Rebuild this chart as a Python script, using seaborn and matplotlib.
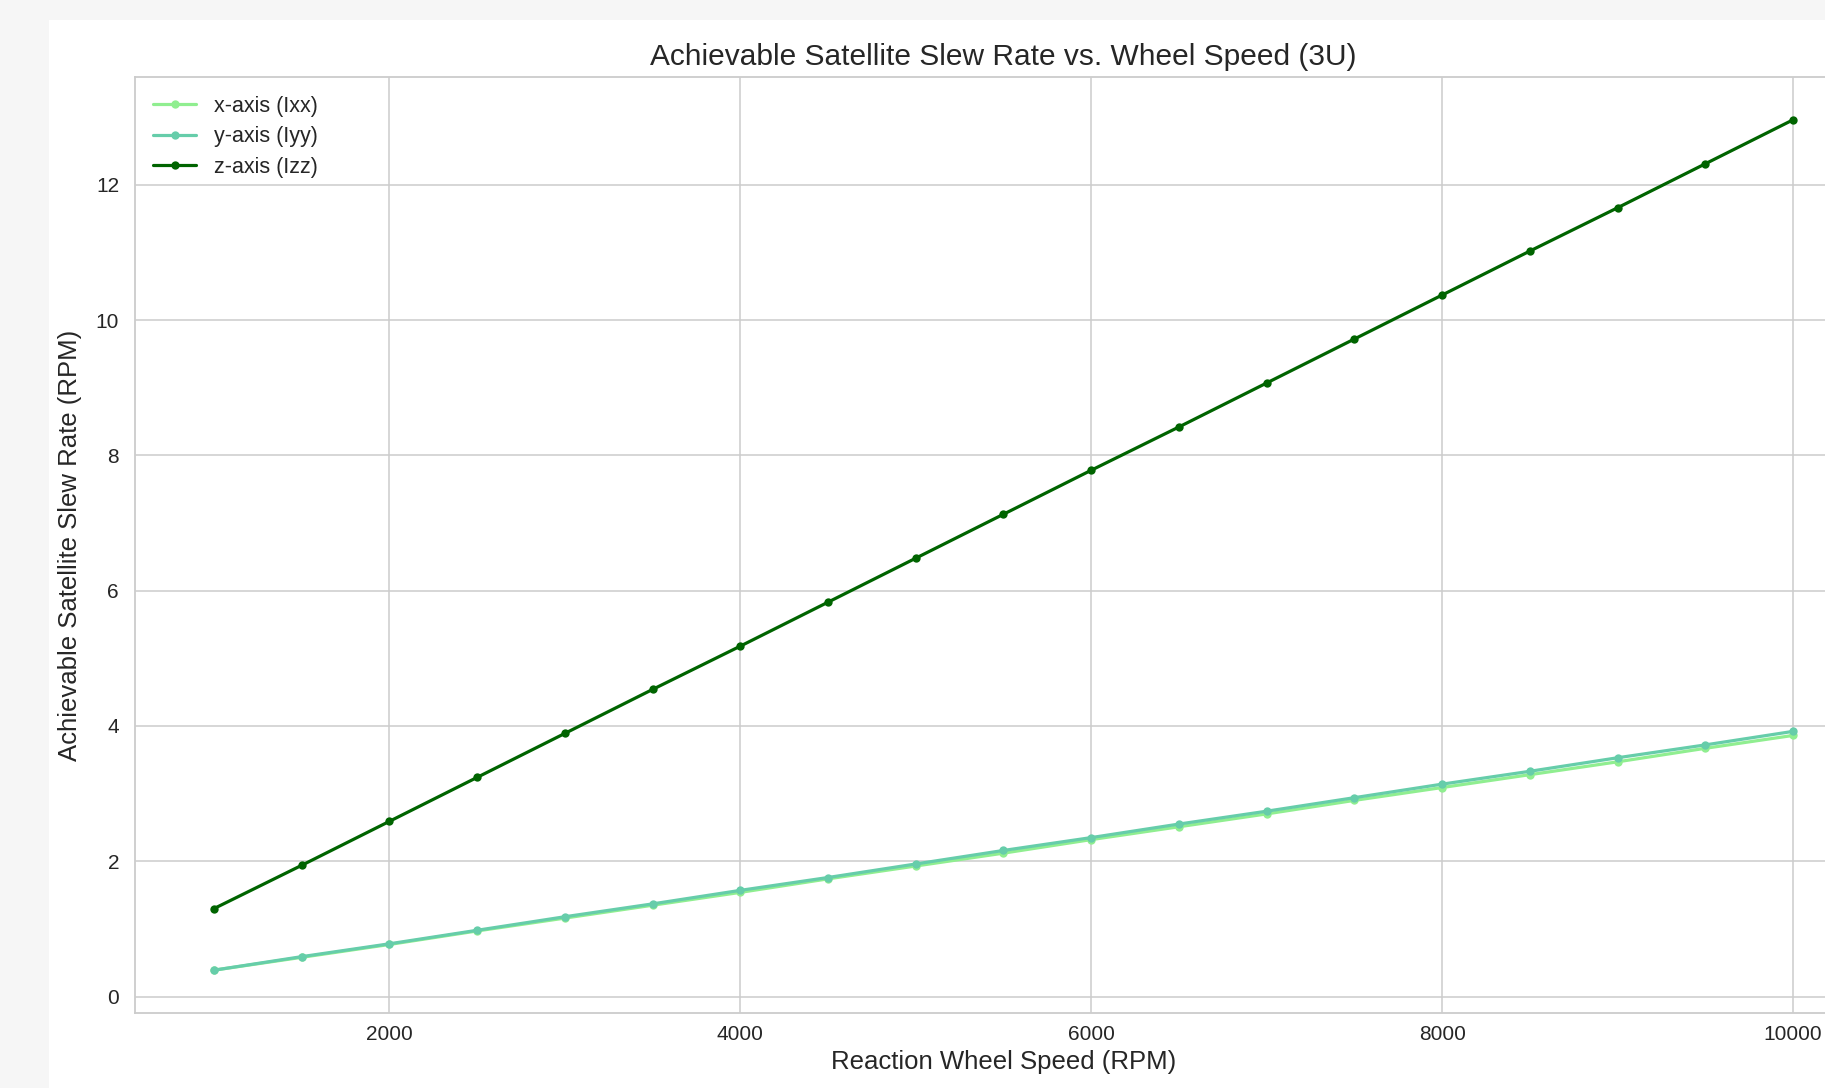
import numpy as np
import pandas as pd
import matplotlib
matplotlib.use("Agg")
import matplotlib.pyplot as plt
import seaborn as sns

# ---- data ----
wheel_speed = [1000, 1500, 2000, 2500, 3000, 3500, 4000, 4500, 5000, 5500,
               6000, 6500, 7000, 7500, 8000, 8500, 9000, 9500, 10000]
slew_x = [0.39, 0.58, 0.77, 0.97, 1.16, 1.35, 1.54, 1.74, 1.93, 2.12,
          2.32, 2.51, 2.70, 2.90, 3.09, 3.28, 3.47, 3.67, 3.86]
slew_y = [0.39, 0.59, 0.78, 0.98, 1.18, 1.37, 1.57, 1.76, 1.96, 2.16,
          2.35, 2.55, 2.74, 2.94, 3.14, 3.33, 3.53, 3.72, 3.92]
slew_z = [1.30, 1.94, 2.59, 3.24, 3.89, 4.54, 5.18, 5.83, 6.48, 7.13,
          7.78, 8.42, 9.07, 9.72, 10.37, 11.02, 11.66, 12.31, 12.96]
series_names = ["x-axis (Ixx)", "y-axis (Iyy)", "z-axis (Izz)"]
series_colors = ["#90EE90", "#66CDAA", "#006400"]

title = "Achievable Satellite Slew Rate vs. Wheel Speed (3U)"
xlabel = "Reaction Wheel Speed (RPM)"
ylabel = "Achievable Satellite Slew Rate (RPM)"

df = pd.DataFrame({
    "speed": wheel_speed * 3,
    "rate": slew_x + slew_y + slew_z,
    "axis": [series_names[0]] * len(wheel_speed)
            + [series_names[1]] * len(wheel_speed)
            + [series_names[2]] * len(wheel_speed),
})

sns.set_theme(style="whitegrid")
plt.rcParams["font.family"] = ["Liberation Sans", "DejaVu Sans"]

W, H = 1825, 1088
fig = plt.figure(figsize=(W / 100, H / 100), dpi=100, facecolor="#f6f6f6")
# white figure area (page background grey on left/top)
bg = plt.Rectangle((49 / W, 0), 1 - 49 / W, 1 - 20 / H,
                   transform=fig.transFigure, facecolor="white",
                   edgecolor="none", zorder=-10)
fig.patches.append(bg)

left, right = 135 / W, 1872 / W
bottom, top = 1 - 1012.7 / H, 1 - 77.3 / H
ax = fig.add_axes([left, bottom, right - left, top - bottom])

sns.lineplot(data=df, x="speed", y="rate", hue="axis",
             palette=dict(zip(series_names, series_colors)),
             marker="o", markersize=6, markeredgewidth=0,
             linewidth=2.3, ax=ax)

ax.set_title(title, fontsize=21.5, color="#262626", pad=9)
ax.set_xlabel(xlabel, fontsize=18.5, color="#262626", labelpad=4)
ax.set_ylabel(ylabel, fontsize=18.5, color="#262626", labelpad=10)
ax.tick_params(axis="x", labelsize=15, pad=3, colors="#262626")
ax.tick_params(axis="y", labelsize=15, pad=5.5, colors="#262626")
ax.set_xticks([2000, 4000, 6000, 8000, 10000])
ax.set_yticks([0, 2, 4, 6, 8, 10, 12])
for s in ax.spines.values():
    s.set_color("#cccccc")
    s.set_linewidth(1.3)
ax.grid(color="#cccccc", linewidth=1.1)

leg = ax.legend(loc="upper left", fontsize=15.5, frameon=False,
                handlelength=2.0, borderaxespad=0.45, labelspacing=0.45)
for t in leg.get_texts():
    t.set_color("#262626")

fig.savefig("out.png", dpi=100, facecolor=fig.get_facecolor())
